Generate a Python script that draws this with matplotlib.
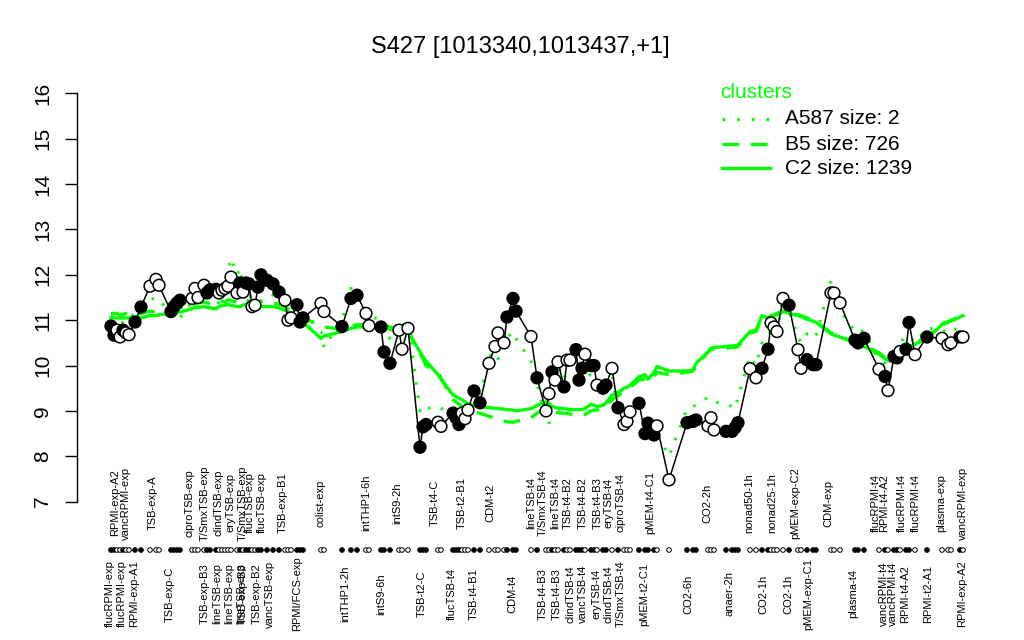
import matplotlib
matplotlib.use("Agg")
import matplotlib.pyplot as plt
from matplotlib.lines import Line2D
from matplotlib.transforms import blended_transform_factory

plt.rcParams['font.family'] = ['Liberation Sans', 'DejaVu Sans']

title = "S427 [1013340,1013437,+1]"

# sample position on the x axis (sample slot) for each measured sample
sample_pos = [1, 2, 3, 4, 5, 6, 7, 9, 11,
              14, 16, 17,
              21, 22, 23, 24,
              28, 29, 30,
              32, 33, 34, 36, 37, 38, 39, 40, 41, 43, 44, 45, 46, 47, 48, 49, 50, 51, 53, 55, 57, 59, 60, 61,
              63, 64, 65,
              71, 72,
              78, 81, 83, 86, 87, 91, 92, 94, 97, 98, 100,
              104, 105, 106, 110, 111,
              115, 116, 117, 118, 119, 120, 122, 124,
              127, 129, 130, 132, 133, 135, 136,
              141, 143, 146, 147,
              148, 149, 150, 152, 153, 154, 156, 157, 158,
              159, 161, 162, 163, 165, 166,
              168, 170, 172, 173, 174, 177, 179, 180, 182, 183, 187,
              193, 195, 196, 200, 201, 202, 206, 208, 209, 210,
              214, 216, 218, 220, 221, 222, 223, 225, 227, 230, 231, 233, 235, 236,
              241, 242, 244, 249, 250, 252, 257, 259, 260, 262, 263, 264, 266, 267, 269, 273, 278, 280, 281, 284, 285]

expression = [10.87, 10.67, 10.78, 10.63, 10.78, 10.72, 10.68, 10.96, 11.29,
              11.75, 11.90, 11.77,
              11.19, 11.30, 11.38, 11.44,
              11.48, 11.70, 11.50,
              11.77, 11.60, 11.67, 11.68, 11.60, 11.66, 11.70, 11.75, 11.95, 11.60, 11.82, 11.62, 11.82, 11.80,
              11.30, 11.33, 11.73, 12.00, 11.88, 11.80, 11.62, 11.44, 11.00, 11.05,
              11.34, 10.96, 11.05,
              11.37, 11.19,
              10.86, 11.48, 11.55, 11.15, 10.88, 10.85, 10.30, 10.05, 10.78, 10.36, 10.82,
              8.20, 8.65, 8.70, 8.75, 8.66,
              8.95, 8.85, 8.70, 8.95, 8.83, 9.02, 9.44, 9.18,
              10.05, 10.42, 10.72, 10.50, 11.07, 11.48, 11.20,
              10.64, 9.73, 9.00, 9.38,
              9.86, 9.68, 10.08, 9.53, 10.12, 10.12, 10.35, 9.68, 9.94,
              10.25, 10.00, 10.00, 9.57, 9.50, 9.57,
              9.94, 9.07, 8.70, 8.77, 8.98, 9.17, 8.50, 8.73, 8.47, 8.67, 7.48,
              8.74, 8.77, 8.80, 8.67, 8.85, 8.58, 8.55, 8.55, 8.63, 8.74,
              9.93, 9.73, 9.94, 10.36, 10.94, 10.85, 10.75, 11.48, 11.33, 10.35, 9.94, 10.13, 10.02, 10.02,
              11.60, 11.60, 11.38, 10.56, 10.50, 10.60, 9.92, 9.76, 9.45, 10.20, 10.17, 10.31, 10.36, 10.95,
              10.24, 10.63, 10.60, 10.46, 10.50, 10.63, 10.63]

filled = [1, 1, 0, 0, 1, 0, 0, 1, 1,
          0, 0, 0,
          1, 1, 1, 1,
          0, 0, 0,
          0, 1, 1, 1, 0, 0, 0, 0, 0, 0, 1, 0, 1, 1, 0, 0, 1, 1, 1, 1, 1, 0, 0, 0,
          1, 1, 1,
          0, 0,
          1, 1, 1, 0, 0, 1, 1, 1, 0, 0, 0,
          1, 1, 1, 0, 0,
          1, 1, 1, 0, 0, 0, 1, 1,
          0, 0, 0, 0, 1, 1, 1,
          0, 1, 0, 0,
          1, 0, 0, 1, 0, 0, 1, 1, 1,
          0, 1, 1, 0, 1, 1,
          0, 1, 0, 0, 0, 1, 1, 1, 1, 0, 0,
          1, 1, 1, 0, 0, 0, 1, 1, 1, 1,
          0, 0, 1, 1, 0, 0, 0, 0, 1, 0, 0, 1, 1, 1,
          0, 0, 0, 1, 1, 1, 0, 1, 0, 1, 1, 0, 1, 1, 0, 1, 0, 0, 0, 1, 0]

cluster_A587 = [11.1, 11.1, 11.0, 10.95, 10.95, 11.0, 11.0, 11.2, 11.35,
                11.45, 11.5, 11.45,
                11.15, 11.2, 11.1, 11.05,
                11.4, 11.5, 11.45,
                11.6, 11.5, 11.3, 11.2, 11.45, 11.6, 11.8, 12.1, 12.37, 12.0, 12.15, 11.8, 11.85, 11.7,
                11.35, 11.4, 11.6, 11.7, 11.6, 11.55, 11.4, 11.35, 11.0, 10.95,
                11.1, 10.85, 10.9,
                10.75, 10.4,
                11.0, 11.7, 11.6, 11.3, 11.1, 11.0, 10.7, 10.6, 11.0, 10.9, 10.95,
                9.0, 9.1, 9.05, 9.1, 9.05,
                9.1, 9.05, 9.0, 9.05, 9.1, 9.15, 9.4, 9.3,
                10.2, 10.3, 10.15, 10.3, 10.6, 10.75, 10.6,
                10.1, 9.6, 8.8, 8.7,
                9.9, 9.7, 10.0, 9.7, 9.9, 10.0, 10.2, 9.8, 9.75,
                10.0, 9.75, 9.8, 9.6, 9.55, 9.6,
                9.8, 9.1, 9.0, 8.95, 9.1, 8.9, 8.8, 8.85, 8.7, 8.5, 8.0,
                9.05, 9.1, 9.13, 9.3, 9.25, 9.2, 9.15, 9.1, 9.05, 9.3,
                10.2, 10.0, 10.5, 10.6, 10.8, 10.75, 10.7, 11.5, 11.2, 10.63, 10.5, 10.7, 10.6, 10.65,
                11.87, 11.75, 11.2, 10.75, 10.8, 10.75, 10.12, 10.05, 9.94, 10.3, 10.3, 10.5, 10.65, 10.65,
                10.5, 10.82, 10.8, 10.7, 10.75, 10.86, 10.8]

cluster_B5 = [11.15, 11.15, 11.15, 11.12, 11.12, 11.15, 11.15, 11.12, 11.15,
              11.2, 11.18, 11.2,
              11.25, 11.25, 11.27, 11.28,
              11.35, 11.35, 11.38,
              11.4, 11.38, 11.37, 11.35, 11.4, 11.42, 11.4, 11.45, 11.43, 11.4, 11.38, 11.42, 11.45, 11.42,
              11.4, 11.38, 11.4, 11.42, 11.4, 11.38, 11.35, 11.3, 11.25, 11.2,
              11.15, 11.1, 11.05,
              10.88, 10.85,
              10.8, 10.87, 10.9, 10.9, 10.92, 10.95, 10.9, 10.85, 10.8, 10.82, 10.78,
              10.25, 10.15, 10.0, 9.85, 9.72,
              9.25, 9.2, 9.15, 9.1, 9.05, 9.0, 8.98, 8.95,
              8.88, 8.85, 8.8, 8.78, 8.76, 8.75, 8.77,
              8.85, 8.95, 9.05, 9.05,
              9.0, 8.98, 8.96, 8.95, 8.95, 8.93, 8.93, 8.92, 8.9,
              8.92, 9.0, 9.02, 9.02, 9.05, 9.1,
              9.25, 9.33, 9.45, 9.47, 9.52, 9.68, 9.7, 9.65, 9.75, 9.85, 9.8,
              9.85, 9.88, 9.98, 10.3, 10.35, 10.37, 10.38, 10.4, 10.4, 10.42,
              10.72, 10.75, 11.05, 11.02, 11.08, 11.1, 11.12, 11.18, 11.15, 11.12, 11.1, 11.05, 11.0, 10.97,
              10.72, 10.7, 10.65, 10.52, 10.48, 10.45, 10.28, 10.18, 10.15, 10.17, 10.22, 10.3, 10.37, 10.45,
              10.5, 10.62, 10.92, 10.97, 11.0, 11.08, 11.12]

cluster_C2 = [11.05, 11.05, 11.05, 11.05, 11.05, 11.05, 11.05, 11.05, 11.05,
              11.10, 11.10, 11.12,
              11.15, 11.15, 11.17, 11.18,
              11.25, 11.28, 11.28,
              11.30, 11.28, 11.27, 11.25, 11.30, 11.32, 11.33, 11.35, 11.33, 11.30, 11.30, 11.33, 11.35, 11.35,
              11.33, 11.30, 11.30, 11.30, 11.30, 11.30, 11.27, 11.22, 11.18, 11.15,
              11.10, 11.05, 10.95,
              10.60, 10.65,
              10.75, 10.82, 10.85, 10.85, 10.85, 10.90, 10.85, 10.80, 10.75, 10.78, 10.75,
              10.30, 10.20, 10.10, 9.80, 9.70,
              9.35, 9.32, 9.28, 9.25, 9.20, 9.15, 9.12, 9.10,
              9.07, 9.06, 9.05, 9.04, 9.03, 9.02, 9.00,
              9.05, 9.12, 9.20, 9.17,
              9.10, 9.08, 9.06, 9.05, 9.04, 9.03, 9.03, 9.03, 9.03,
              9.05, 9.15, 9.12, 9.10, 9.12, 9.18,
              9.35, 9.40, 9.50, 9.52, 9.57, 9.75, 9.80, 9.70, 9.85, 9.98, 9.88,
              9.88, 9.90, 10.05, 10.30, 10.38, 10.40, 10.42, 10.43, 10.44, 10.45,
              10.75, 10.78, 11.10, 11.05, 11.10, 11.12, 11.15, 11.20, 11.15, 11.10, 11.08, 11.02, 10.98, 10.95,
              10.70, 10.67, 10.63, 10.50, 10.45, 10.42, 10.25, 10.15, 10.12, 10.15, 10.20, 10.28, 10.35, 10.42,
              10.47, 10.60, 10.90, 10.95, 10.98, 11.07, 11.10]

label_text = ["flucRPMI-exp", "RPMI-exp-A2", "flucRPMI-exp", "vancRPMI-exp", "RPMI-exp-A1",
              "TSB-exp-A", "TSB-exp-C", "ciproTSB-exp", "TSB-exp-B3", "T/SmxTSB-exp",
              "lineTSB-exp", "clindTSB-exp", "lineTSB-exp", "eryTSB-exp", "lineTSB-exp",
              "T/SmxTSB-exp", "TSB-exp-B3", "flucTSB-exp", "TSB-exp-B2", "flucTSB-exp",
              "vancTSB-exp", "TSB-exp-B1", "RPMI/FCS-exp", "colist-exp", "intTHP1-2h",
              "intTHP1-6h", "intS9-6h", "intS9-2h", "TSB-t2-C", "TSB-t4-C",
              "flucTSB-t4", "TSB-t2-B1", "TSB-t4-B1", "CDM-t2", "CDM-t4",
              "lineTSB-t4", "TSB-t4-B3", "T/SmxTSB-t4", "TSB-t4-B3", "lineTSB-t4",
              "clindTSB-t4", "TSB-t4-B2", "vancTSB-t4", "TSB-t4-B2", "eryTSB-t4",
              "TSB-t4-B3", "clindTSB-t4", "eryTSB-t4", "T/SmxTSB-t4", "ciproTSB-t4",
              "pMEM-t2-C1", "pMEM-t4-C1", "CO2-6h", "CO2-2h", "anaer-2h",
              "nonad50-1h", "CO2-1h", "nonad25-1h", "CO2-1h", "pMEM-exp-C2",
              "pMEM-exp-C1", "CDM-exp", "plasma-t4", "flucRPMI-t4", "vancRPMI-t4",
              "RPMI-t4-A2", "vancRPMI-t4", "flucRPMI-t4", "RPMI-t4-A2", "flucRPMI-t4",
              "RPMI-t2-A1", "plasma-exp", "RPMI-exp-A2", "vancRPMI-exp"]
label_slot = [0.7, 2.3, 4.7, 6.0, 8.7,
              15.0, 20.7, 27.3, 32.3, 32.3,
              36.3, 36.7, 40.3, 41.0, 44.3,
              45.0, 45.0, 47.3, 49.7, 51.3,
              54.0, 58.3, 63.0, 70.7, 79.0,
              86.0, 91.0, 96.3, 104.7, 109.0,
              114.7, 118.0, 122.0, 127.3, 134.7,
              141.0, 145.0, 145.0, 149.7, 149.0,
              154.0, 153.3, 158.3, 158.3, 162.7,
              163.3, 167.0, 167.0, 171.0, 170.7,
              178.7, 180.7, 193.3, 199.7, 207.3,
              213.7, 218.3, 221.3, 226.7, 229.0,
              233.3, 240.0, 248.3, 256.0, 258.7,
              258.7, 261.7, 264.7, 265.7, 269.3,
              273.3, 277.7, 284.7, 285.0]
label_top = [0, 1, 0, 1, 0, 1, 0, 1, 0, 1, 0, 1, 0, 1, 0, 1, 0, 1, 0, 1,
             0, 1, 0, 1, 0, 1, 0, 1, 0, 1, 0, 1, 0, 1, 0, 1, 0, 1, 0, 1,
             0, 1, 0, 1, 0, 1, 0, 1, 0, 1, 0, 1, 0, 1, 0, 1, 0, 1, 0, 1,
             0, 1, 0, 1, 0, 1, 0, 1, 0, 1, 0, 1, 0, 1]

legend_title = "clusters"
legend_names = ["A587 size: 2", "B5 size: 726", "C2 size: 1239"]

GREEN = "#00FF00"
W, H = 1024, 640

fig = plt.figure(figsize=(W / 100, H / 100), dpi=100)
# axes box in pixels: left 77, right 1000, top 77, bottom 518
ax = fig.add_axes([77 / W, (H - 518) / H, (1000 - 77) / W, (518 - 77) / H])
ax.set_ylim(6.64, 16.36)
ax.set_xlim(-31 / 3, 892 / 3)

for s in ("top", "right", "bottom"):
    ax.spines[s].set_visible(False)
ax.spines["left"].set_bounds(7, 16)
ax.spines["left"].set_linewidth(1.0)
ax.set_xticks([])
ax.set_yticks(range(7, 17))
ax.tick_params(axis="y", length=9, width=1.0, labelsize=15, pad=9)
for lab in ax.get_yticklabels():
    lab.set_rotation(90)
    lab.set_va("center")

# cluster lines
ax.plot(sample_pos, cluster_C2, color=GREEN, lw=2.4, zorder=2, solid_joinstyle="round")
ax.plot(sample_pos, cluster_B5, color=GREEN, lw=2.4, ls=(0, (5, 3.5)), zorder=2)
ax.plot(sample_pos, cluster_A587, color=GREEN, lw=2.2, ls=(0, (0.8, 3.6)), zorder=2)

# expression line and markers
ax.plot(sample_pos, expression, color="black", lw=1.1, zorder=3)
fc = ["black" if f else "white" for f in filled]
ax.scatter(sample_pos, expression, s=72, facecolors=fc, edgecolors="black",
           linewidths=1.1, zorder=4)

# dot row with sample markers
tr = blended_transform_factory(ax.transData, fig.transFigure)
ax.scatter(sample_pos, [1 - 550 / H] * len(sample_pos), s=11, facecolors=fc,
           edgecolors="black", linewidths=0.7, transform=tr, clip_on=False, zorder=4)

# sample labels
for t, xs, top in zip(label_text, label_slot, label_top):
    y = 1 - 503 / H if top else 1 - 594 / H
    ax.text(xs, y, t, transform=tr, rotation=90, ha="center", va="center",
            fontsize=8, clip_on=False)

# title
fig.text(520 / W, 1 - 47 / H, title, ha="center", va="center", fontsize=17)

# legend
fig.text(720 / W, 1 - 92 / H, legend_title, color=GREEN, ha="left", va="center", fontsize=15)
styles = [(0, (0.8, 3.6)), (0, (5, 3.5)), "-"]
rows = [119, 144, 168]
for name, st, yy in zip(legend_names, styles, rows):
    fig.add_artist(Line2D([722 / W, 770 / W], [1 - yy / H, 1 - yy / H], color=GREEN,
                          lw=2.4, ls=st, transform=fig.transFigure))
    fig.text(785 / W, 1 - yy / H, name, ha="left", va="center", fontsize=15)

fig.savefig("out.png", dpi=100)
